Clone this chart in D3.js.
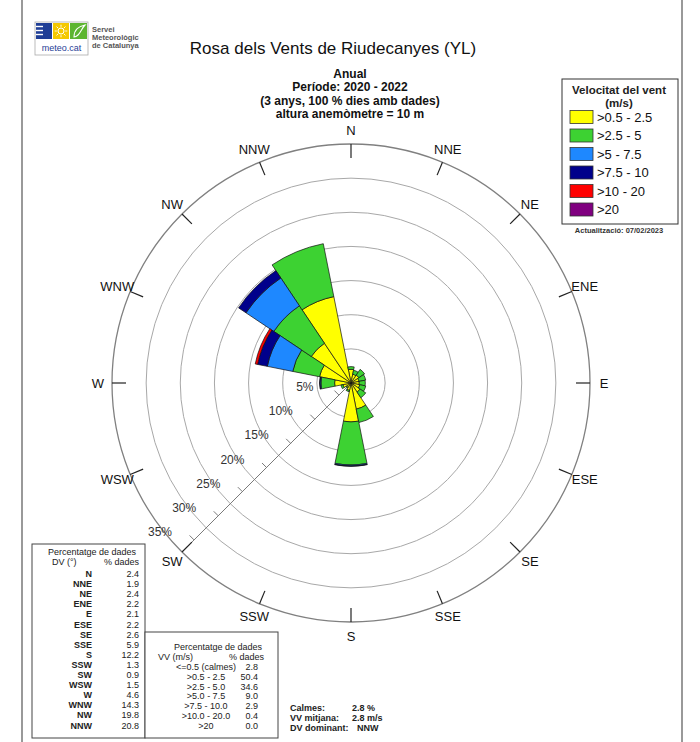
<!DOCTYPE html>
<html>
<head>
<meta charset="utf-8">
<script src="https://cdn.jsdelivr.net/npm/d3@7"></script>
<style>
  html, body { margin: 0; padding: 0; background: #fff; }
  svg { display: block; font-family: "Liberation Sans", Arial, sans-serif; }
</style>
</head>
<body>
<svg id="chart" width="700" height="742"></svg>
<script>
// Wind directions and share of records per direction (%)
const directions = ["N","NNE","NE","ENE","E","ESE","SE","SSE","S","SSW","SW","WSW","W","WNW","NW","NNW"];
const dirPct     = [2.4, 1.9, 2.4, 2.2, 2.1, 2.2, 2.6, 5.9, 12.2, 1.3, 0.9, 1.5, 4.6, 14.3, 19.8, 20.8];

// Speed classes (m/s), legend labels and colours
const speedKeys   = ["s1","s2","s3","s4","s5","s6"];
const speedLegend = [">0.5 - 2.5", ">2.5 - 5", ">5 - 7.5", ">7.5 - 10", ">10 - 20", ">20"];
const speedColors = ["#ffff00", "#3dd232", "#1e88ff", "#00008b", "#ff0000", "#800080"];

// Share of records per direction within each speed class (%)
const s1 = [2.0, 1.3, 1.4, 1.2, 1.2, 1.3, 1.6, 3.9, 5.7, 1.1, 0.8, 1.2, 2.4, 4.7, 7.0, 12.9];
const s2 = [0.4, 0.6, 1.0, 1.0, 0.9, 0.9, 1.0, 2.0, 6.3, 0.2, 0.1, 0.3, 2.0, 4.0, 6.6, 7.9];
const s3 = [0, 0, 0, 0, 0, 0, 0, 0, 0.15, 0, 0, 0, 0.15, 3.8, 4.9, 0];
const s4 = [0, 0, 0, 0, 0, 0, 0, 0, 0.05, 0, 0, 0, 0.05, 1.45, 1.3, 0];
const s5 = [0, 0, 0, 0, 0, 0, 0, 0, 0, 0, 0, 0, 0, 0.35, 0, 0];
const s6 = [0, 0, 0, 0, 0, 0, 0, 0, 0, 0, 0, 0, 0, 0, 0, 0];

// Speed summary table
const speedTableLabels = ["<=0.5 (calmes)", ">0.5 - 2.5", ">2.5 - 5.0", ">5.0 - 7.5", ">7.5 - 10.0", ">10.0 - 20.0", ">20"];
const speedTablePct    = [2.8, 50.4, 34.6, 9.0, 2.9, 0.4, 0.0];

// Radial rings (%)
const ringValues = [5, 10, 15, 20, 25, 30, 35];
const meanSpeed = 2.8;

const svg = d3.select("#chart");
const cx = 351, cy = 383;
const rScale = d3.scaleLinear().domain([0, 35]).range([0, 239]);
const aScale = d3.scalePoint().domain(directions).range([0, 2 * Math.PI * 15 / 16]);
const half = Math.PI / 16;
const colorScale = d3.scaleOrdinal().domain(speedKeys).range(speedColors);

// Page frame
svg.append("line").attr("x1", 22).attr("x2", 22).attr("y1", 0).attr("y2", 742).attr("stroke", "#555").attr("stroke-width", 1.2);
svg.append("line").attr("x1", 682).attr("x2", 682).attr("y1", 0).attr("y2", 742).attr("stroke", "#555").attr("stroke-width", 1.2);

// Logo
const logo = svg.append("g").attr("transform", "translate(35,22)");
logo.append("rect").attr("x", 0).attr("y", 0).attr("width", 53).attr("height", 33).attr("fill", "#fff").attr("stroke", "#aaa").attr("stroke-width", 0.8);
logo.append("rect").attr("x", 1).attr("y", 1).attr("width", 16).attr("height", 16).attr("fill", "#1f3e96");
[4.5, 8.5, 12.5].forEach(y => logo.append("line").attr("x1", 1).attr("x2", 8).attr("y1", y).attr("y2", y).attr("stroke", "#fff").attr("stroke-width", 1.4));
logo.append("rect").attr("x", 18).attr("y", 1).attr("width", 16).attr("height", 16).attr("fill", "#f4c800");
logo.append("circle").attr("cx", 26).attr("cy", 9).attr("r", 3).attr("fill", "none").attr("stroke", "#fff").attr("stroke-width", 1);
d3.range(8).forEach(k => {
  const t = k * Math.PI / 4;
  logo.append("line").attr("x1", 26 + 4.2 * Math.cos(t)).attr("y1", 9 + 4.2 * Math.sin(t))
    .attr("x2", 26 + 6.3 * Math.cos(t)).attr("y2", 9 + 6.3 * Math.sin(t)).attr("stroke", "#fff").attr("stroke-width", 0.9);
});
logo.append("rect").attr("x", 35).attr("y", 1).attr("width", 17).attr("height", 16).attr("fill", "#5db530");
logo.append("path").attr("d", "M39,15 C39,8 44,4 50,3 C47,6 46,10 43,13 C42,14 40,15 39,15 Z").attr("fill", "none").attr("stroke", "#fff").attr("stroke-width", 1.1);
logo.append("text").attr("x", 26.5).attr("y", 29).attr("text-anchor", "middle").attr("font-size", 9).attr("fill", "#1f3e96").text("meteo.cat");
["Servei", "Meteorològic", "de Catalunya"].forEach((t, i) => {
  svg.append("text").attr("x", 92).attr("y", 32 + i * 8).attr("font-size", 7.5).attr("font-weight", "bold").attr("fill", "#555").text(t);
});

// Titles
svg.append("text").attr("x", 333).attr("y", 54).attr("text-anchor", "middle").attr("font-size", 17).attr("fill", "#111")
  .text("Rosa dels Vents de Riudecanyes (YL)");
["Anual", "Període: 2020 - 2022", "(3 anys, 100 % dies amb dades)", "altura anemòmetre = 10 m"].forEach((t, i) => {
  svg.append("text").attr("x", 350).attr("y", 78 + i * 13.4).attr("text-anchor", "middle").attr("font-size", 12)
    .attr("font-weight", "bold").attr("fill", "#111").text(t);
});

// Rings
const rose = svg.append("g").attr("transform", `translate(${cx},${cy})`);
rose.selectAll("circle.ring").data(ringValues).join("circle")
  .attr("class", "ring").attr("r", d => rScale(d)).attr("fill", "none")
  .attr("stroke", d => d === 35 ? "#808080" : "#a8a8a8").attr("stroke-width", d => d === 35 ? 1.3 : 1);

// Scale axis towards SW with minor ticks
const swAngle = aScale("SW");
const ux = Math.sin(swAngle), uy = -Math.cos(swAngle);
rose.append("line").attr("x1", 0).attr("y1", 0).attr("x2", ux * rScale(35)).attr("y2", uy * rScale(35))
  .attr("stroke", "#7a7a7a").attr("stroke-width", 1);
const minorTicks = d3.range(2.5, 35, 5);
rose.selectAll("line.minor").data(minorTicks).join("line").attr("class", "minor")
  .attr("x1", d => ux * rScale(d)).attr("y1", d => uy * rScale(d))
  .attr("x2", d => ux * rScale(d) - 4.5).attr("y2", d => uy * rScale(d) - 4.5)
  .attr("stroke", "#7a7a7a").attr("stroke-width", 1);

// Stacked wedges
const rows = directions.map((d, i) => ({ dir: d, s1: s1[i], s2: s2[i], s3: s3[i], s4: s4[i], s5: s5[i], s6: s6[i] }));
const stacked = d3.stack().keys(speedKeys)(rows);
const arc = d3.arc()
  .innerRadius(d => rScale(d[0]))
  .outerRadius(d => rScale(d[1]))
  .startAngle(d => aScale(d.data.dir) - half)
  .endAngle(d => aScale(d.data.dir) + half);
stacked.forEach(layer => {
  rose.append("g").selectAll("path").data(layer.filter(d => d[1] - d[0] > 0)).join("path")
    .attr("d", arc).attr("fill", colorScale(layer.key))
    .attr("stroke", "#111").attr("stroke-width", 0.7).attr("stroke-linejoin", "miter");
});

// Direction ticks and labels
rose.selectAll("line.dtick").data(directions).join("line").attr("class", "dtick")
  .attr("x1", d => Math.sin(aScale(d)) * (rScale(35) - 14)).attr("y1", d => -Math.cos(aScale(d)) * (rScale(35) - 14))
  .attr("x2", d => Math.sin(aScale(d)) * rScale(35)).attr("y2", d => -Math.cos(aScale(d)) * rScale(35))
  .attr("stroke", "#222").attr("stroke-width", 1.2);
rose.selectAll("text.dlab").data(directions).join("text").attr("class", "dlab")
  .attr("x", d => Math.sin(aScale(d)) * 253).attr("y", d => -Math.cos(aScale(d)) * 253)
  .attr("text-anchor", "middle").attr("dominant-baseline", "central").attr("font-size", 13).attr("fill", "#111")
  .text(d => d);

// Ring labels along the SW axis
rose.selectAll("text.rlab").data(ringValues).join("text").attr("class", "rlab")
  .attr("x", d => ux * rScale(d) - 22).attr("y", d => uy * rScale(d) - 20)
  .attr("text-anchor", "middle").attr("dominant-baseline", "central").attr("font-size", 12).attr("fill", "#333")
  .text(d => d + "%");

// Legend
const lg = svg.append("g");
lg.append("rect").attr("x", 562).attr("y", 79).attr("width", 116).attr("height", 145).attr("fill", "#fff").attr("stroke", "#333").attr("stroke-width", 1);
lg.append("text").attr("x", 619).attr("y", 94).attr("text-anchor", "middle").attr("font-size", 11.5).attr("font-weight", "bold").attr("fill", "#222").text("Velocitat del vent");
lg.append("text").attr("x", 619).attr("y", 107).attr("text-anchor", "middle").attr("font-size", 11.5).attr("font-weight", "bold").attr("fill", "#222").text("(m/s)");
speedKeys.forEach((k, i) => {
  const y = 117 + i * 18.5;
  lg.append("rect").attr("x", 570).attr("y", y - 6.5).attr("width", 23).attr("height", 13).attr("fill", colorScale(k)).attr("stroke", "#333").attr("stroke-width", 0.8);
  lg.append("text").attr("x", 597).attr("y", y).attr("dominant-baseline", "central").attr("font-size", 13).attr("fill", "#111").text(speedLegend[i]);
});
svg.append("text").attr("x", 619).attr("y", 233).attr("text-anchor", "middle").attr("font-size", 7.5).attr("font-weight", "bold").attr("fill", "#333").text("Actualització: 07/02/2023");

// Direction table
const t1 = svg.append("g");
t1.append("rect").attr("x", 32).attr("y", 544).attr("width", 113).attr("height", 194).attr("fill", "#fff").attr("stroke", "#444").attr("stroke-width", 1);
t1.append("text").attr("x", 92).attr("y", 555).attr("text-anchor", "middle").attr("font-size", 9).attr("fill", "#222").text("Percentatge de dades");
t1.append("text").attr("x", 52).attr("y", 565).attr("font-size", 9).attr("fill", "#222").text("DV (°)");
t1.append("text").attr("x", 139).attr("y", 565).attr("text-anchor", "end").attr("font-size", 9).attr("fill", "#222").text("% dades");
directions.forEach((d, i) => {
  const y = 577 + i * 10.1;
  t1.append("text").attr("x", 92).attr("y", y).attr("text-anchor", "end").attr("font-size", 9).attr("font-weight", "bold").attr("fill", "#222").text(d);
  t1.append("text").attr("x", 139).attr("y", y).attr("text-anchor", "end").attr("font-size", 9).attr("fill", "#222").text(dirPct[i].toFixed(1));
});

// Speed table
const t2 = svg.append("g");
t2.append("rect").attr("x", 145).attr("y", 632).attr("width", 133).attr("height", 106).attr("fill", "#fff").attr("stroke", "#444").attr("stroke-width", 1);
t2.append("text").attr("x", 218).attr("y", 650).attr("text-anchor", "middle").attr("font-size", 9).attr("fill", "#222").text("Percentatge de dades");
t2.append("text").attr("x", 158).attr("y", 660).attr("font-size", 9).attr("fill", "#222").text("VV (m/s)");
t2.append("text").attr("x", 264).attr("y", 660).attr("text-anchor", "end").attr("font-size", 9).attr("fill", "#222").text("% dades");
speedTableLabels.forEach((l, i) => {
  const y = 670 + i * 9.8;
  t2.append("text").attr("x", 206).attr("y", y).attr("text-anchor", "middle").attr("font-size", 9).attr("fill", "#222").text(l);
  t2.append("text").attr("x", 258).attr("y", y).attr("text-anchor", "end").attr("font-size", 9).attr("fill", "#222").text(speedTablePct[i].toFixed(1));
});

// Summary
const dominant = directions[d3.maxIndex(dirPct)];
const summary = [["Calmes:", speedTablePct[0].toFixed(1) + " %", 352], ["VV mitjana:", meanSpeed.toFixed(1) + " m/s", 352], ["DV dominant:", dominant, 357]];
summary.forEach((s, i) => {
  const y = 711 + i * 10;
  svg.append("text").attr("x", 290).attr("y", y).attr("font-size", 9).attr("font-weight", "bold").attr("fill", "#222").text(s[0]);
  svg.append("text").attr("x", s[2]).attr("y", y).attr("font-size", 9).attr("font-weight", "bold").attr("fill", "#222").text(s[1]);
});
</script>
</body>
</html>
